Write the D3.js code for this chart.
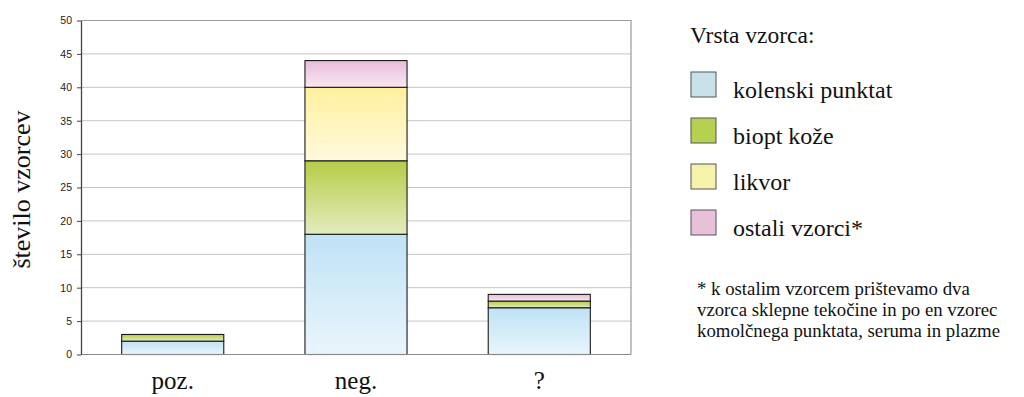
<!DOCTYPE html>
<html>
<head>
<meta charset="utf-8">
<script src="https://cdn.jsdelivr.net/npm/d3@7"></script>
<style>
  html, body { margin: 0; padding: 0; background: #fff; }
  svg { display: block; }
  .serif { font-family: 'Liberation Serif', 'Times New Roman', serif; }
  .sans { font-family: 'Liberation Sans', Arial, sans-serif; }
</style>
</head>
<body>
<svg id="chart" width="1024" height="397"></svg>
<script>
// Sample groups (x axis) and the counts of each sample type per group
const categories = ["poz.", "neg.", "?"];
const seriesNames = ["kolenski punktat", "biopt kože", "likvor", "ostali vzorci*"];
const kolenskiPunktat = [2, 18, 7];
const bioptKoze = [1, 11, 1];
const likvor = [0, 11, 0];
const ostaliVzorci = [0, 4, 1];
const yTicks = [0, 5, 10, 15, 20, 25, 30, 35, 40, 45, 50];
const footnoteLines = [
  "* k ostalim vzorcem prištevamo dva",
  "vzorca sklepne tekočine in po en vzorec",
  "komolčnega punktata, seruma in plazme"
];

// Fill colours: gradient top/bottom for the bars, flat tone for legend swatches
const gradTop = ["#bfe2f5", "#b5cc47", "#fff09e", "#e8bbdc"];
const gradBottom = ["#e9f5fc", "#e4ecbe", "#fff9de", "#f8e8f2"];
const swatchFill = ["#c7e2ea", "#b6d050", "#f7f2aa", "#e9c0d9"];

const svg = d3.select("#chart");
const plot = { left: 81, right: 631, top: 20.5, bottom: 354.5 };

const defs = svg.append("defs");
seriesNames.forEach((n, i) => {
  const g = defs.append("linearGradient")
    .attr("id", "grad" + i)
    .attr("x1", 0).attr("y1", 0).attr("x2", 0).attr("y2", 1);
  g.append("stop").attr("offset", "0%").attr("stop-color", gradTop[i]);
  g.append("stop").attr("offset", "100%").attr("stop-color", gradBottom[i]);
});

const rows = categories.map((c, j) => ({
  cat: c,
  s0: kolenskiPunktat[j],
  s1: bioptKoze[j],
  s2: likvor[j],
  s3: ostaliVzorci[j]
}));
const stacked = d3.stack().keys(["s0", "s1", "s2", "s3"])(rows);

const x = d3.scaleBand().domain(categories).range([plot.left, plot.right]).paddingInner(0.443).paddingOuter(0.222);
const y = d3.scaleLinear().domain([0, 50]).range([plot.bottom, plot.top]);

// Horizontal gridlines
svg.append("g")
  .selectAll("line")
  .data(yTicks.filter(t => t > 0 && t < 50))
  .join("line")
  .attr("x1", plot.left).attr("x2", plot.right)
  .attr("y1", d => y(d)).attr("y2", d => y(d))
  .attr("stroke", "#c4c4c4").attr("stroke-width", 1);

// Plot frame (top and right edges)
svg.append("path")
  .attr("d", `M${plot.left},${y(50)}H${plot.right}V${plot.bottom}`)
  .attr("fill", "none").attr("stroke", "#9a9a9a").attr("stroke-width", 1.2);

// Stacked bars
svg.append("g")
  .selectAll("g")
  .data(stacked)
  .join("g")
  .attr("fill", (d, i) => `url(#grad${i})`)
  .selectAll("rect")
  .data(d => d.filter(p => p[1] - p[0] > 0))
  .join("rect")
  .attr("x", d => x(d.data.cat))
  .attr("width", x.bandwidth())
  .attr("y", d => y(d[1]))
  .attr("height", d => y(d[0]) - y(d[1]))
  .attr("stroke", "#1a1a1a")
  .attr("stroke-width", 1.1);

// Bottom axis line
svg.append("line")
  .attr("x1", plot.left).attr("x2", plot.right)
  .attr("y1", plot.bottom).attr("y2", plot.bottom)
  .attr("stroke", "#8a8a8a").attr("stroke-width", 1.2);

// Left axis with ticks
const yAxis = svg.append("g")
  .attr("transform", `translate(${plot.left},0)`)
  .call(d3.axisLeft(y).tickValues(yTicks).tickSize(4).tickPadding(5).tickSizeOuter(0));
yAxis.attr("font-family", null).attr("font-size", null);
yAxis.select(".domain").attr("stroke", "#444").attr("stroke-width", 1.3);
yAxis.selectAll(".tick line").attr("stroke", "#444");
yAxis.selectAll(".tick text")
  .attr("class", "sans")
  .style("font-size", "10.5px")
  .attr("fill", "#222");

// Category labels
svg.append("g")
  .selectAll("text")
  .data(categories)
  .join("text")
  .attr("class", "serif")
  .attr("x", d => x(d) + x.bandwidth() / 2)
  .attr("y", 389)
  .attr("text-anchor", "middle")
  .style("font-size", "25px")
  .attr("fill", "#111")
  .text(d => d);

// Y axis title
svg.append("text")
  .attr("class", "serif")
  .attr("transform", `translate(30,${(y(0) + y(50)) / 2 + 2}) rotate(-90)`)
  .attr("text-anchor", "middle")
  .style("font-size", "26px")
  .attr("fill", "#111")
  .text("število vzorcev");

// Legend
const legend = svg.append("g").attr("fill", "#111");
legend.append("text").attr("class", "serif")
  .attr("x", 690).attr("y", 43).style("font-size", "23.5px").text("Vrsta vzorca:");
const items = legend.selectAll("g.item")
  .data(seriesNames)
  .join("g")
  .attr("class", "item")
  .attr("transform", (d, i) => `translate(691,${72 + i * 46})`);
items.append("rect")
  .attr("width", 25).attr("height", 25)
  .attr("fill", (d, i) => swatchFill[i])
  .attr("stroke", "#555").attr("stroke-width", 1);
items.append("text")
  .attr("class", "serif")
  .attr("x", 42).attr("y", 26)
  .style("font-size", "24px")
  .text(d => d);

// Footnote
legend.append("g")
  .selectAll("text")
  .data(footnoteLines)
  .join("text")
  .attr("class", "serif")
  .attr("x", 697)
  .attr("y", (d, i) => 295 + i * 20.8)
  .style("font-size", "18.8px")
  .text(d => d);
</script>
</body>
</html>
